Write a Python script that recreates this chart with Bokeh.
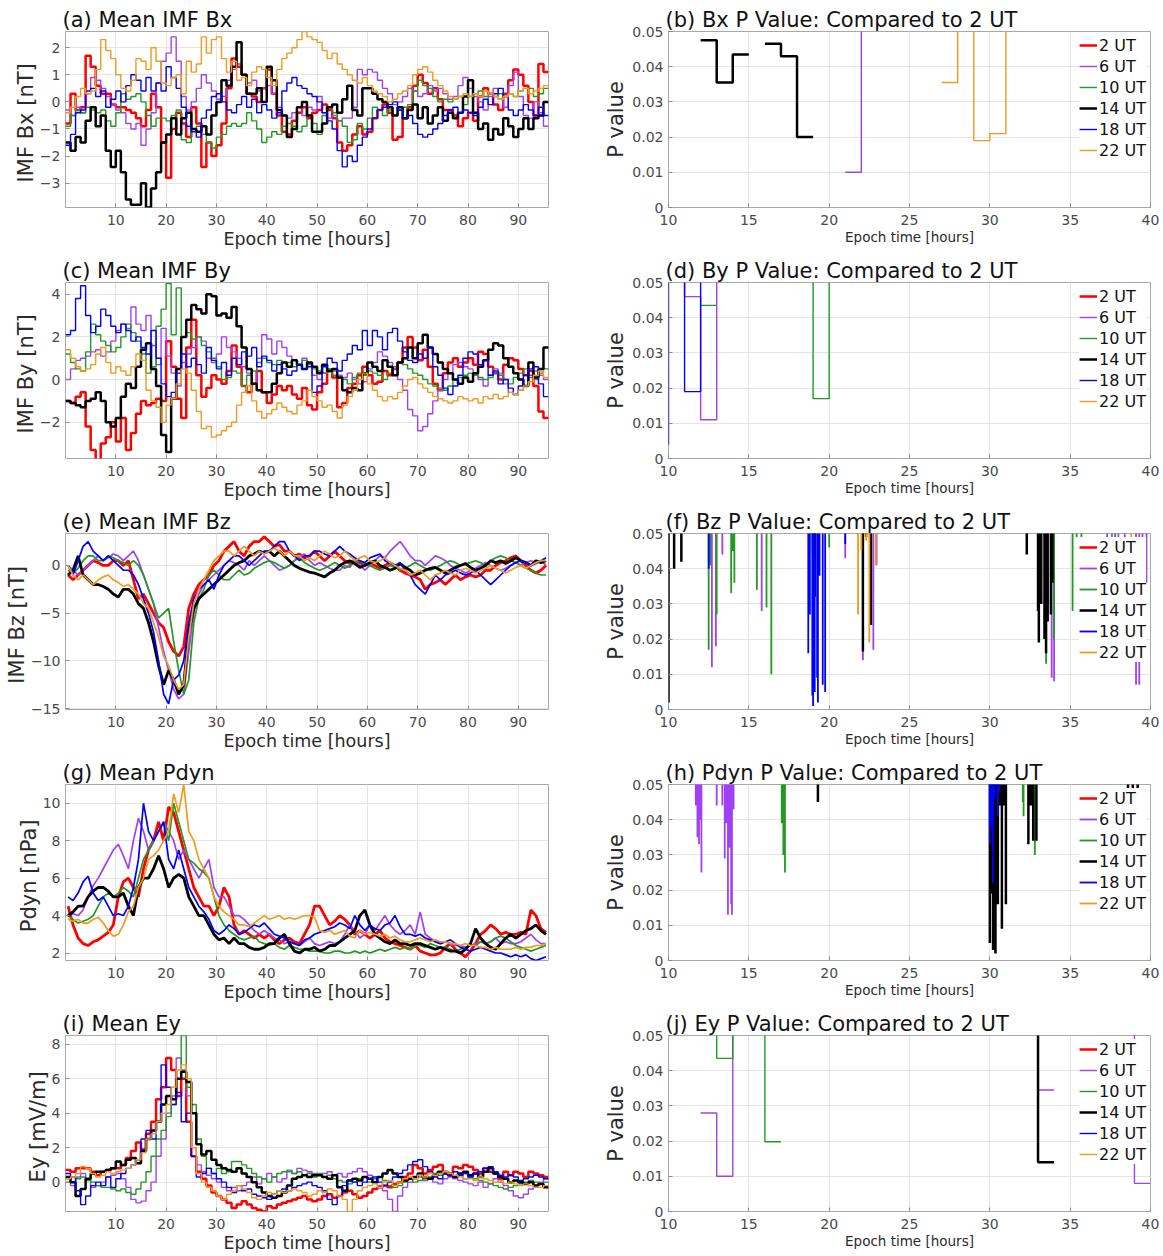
import math
from bokeh.plotting import figure
from bokeh.layouts import column, row
from bokeh.models import FixedTicker, Range1d, Legend, LegendItem
from bokeh.embed import file_html
from bokeh.resources import INLINE

FONT = "DejaVu Sans"
SERIES = ["2 UT", "6 UT", "10 UT", "14 UT", "18 UT", "22 UT"]
COLORS = {"2 UT": "#ff0000", "6 UT": "#a040f5", "10 UT": "#229922",
          "14 UT": "#000000", "18 UT": "#0000ff", "22 UT": "#f09a1e"}
WIDTHS = {"2 UT": 2.5, "6 UT": 1.4, "10 UT": 1.4, "14 UT": 2.5, "18 UT": 1.4, "22 UT": 1.4}

# ---------------- Mean IMF Bx (hourly means, epoch hours 0..96) ----------------
bx_02 = [-0.8, 0.3, -0.3, -0.2, 1.7, 1.3, 0.6, 0.3, 0.3, -0.1,
         -0.2, -0.2, -0.3, -0.4, -0.6, -0.9, -0.3, 0.3, -0.2, -1.5,
         -2.8, -1.0, -0.4, -0.8, -1.3, -0.2, -0.8, -2.4, -1.5, -2.0,
         -1.6, -0.8, 0.5, 1.6, 1.3, 1.0, 0.3, 0.2, 0.0, 0.5,
         1.2, 0.3, -0.5, -1.1, -1.2, -0.7, -0.4, -0.2, -0.6, -0.4,
         -0.3, -0.1, -0.3, -0.6, -1.5, -1.8, -1.6, -1.2, -0.9, -1.2,
         -1.1, -0.6, -0.3, -0.1, -0.4, -1.4, -1.3, -0.6, -0.2, 0.6,
         1.0, 0.7, 0.3, 0.5, 0.1, -0.3, -0.3, -0.5, -0.9, -0.6,
         -0.4, -0.7, 0.2, 0.5, 0.3, -0.1, -0.3, 0.3, 0.8, 1.2,
         1.0, 0.6, 0.0, -0.5, 1.4, 1.1]
bx_06 = [-0.3, -0.5, -0.2, -0.4, 0.3, 0.9, 0.8, 0.5, 0.2, -0.1,
         -0.3, -0.4, -0.8, -1.0, -0.8, -1.6, -1.0, -0.4, 0.7, 1.5,
         1.8, 2.4, 1.5, 0.2, -0.3, 0.0, 0.5, 1.0, 0.7, 0.4,
         0.1, 0.2, 0.8, 1.2, 1.4, 1.0, 0.7, 0.8, 0.4, 0.5,
         0.6, 0.3, -0.2, -0.5, -0.6, -0.4, -0.2, -0.5, -0.2, -0.3,
         0.2, -0.4, -0.6, -0.5, -0.7, -0.6, -0.6, -0.2, 1.2, 1.0,
         1.2, 1.1, 0.8, 0.5, 0.3, -0.1, 0.0, 0.2, 0.5, 0.4,
         0.2, 0.3, 0.6, 0.4, 0.5, 0.3, 0.1, 0.2, 0.6, 0.9,
         0.5, 0.2, 0.0, -0.3, 0.2, 0.5, 0.1, -0.2, 0.6, 1.1,
         0.2, -0.5, -0.6, 0.0, -0.4, -0.9]
bx_10 = [-0.9, -0.5, -0.3, -0.4, -0.2, -0.3, -0.4, -0.3, -0.7, -0.9,
         -0.4, 0.3, 0.1, 0.2, 0.3, 0.0, -0.5, -0.9, -0.6, -0.6,
         -0.7, -0.5, -0.3, -1.4, -1.5, -1.0, -0.9, -1.2, -1.5, -1.7,
         -1.3, -1.2, -0.9, -0.8, -0.9, -0.8, -0.4, -0.7, -1.0, -1.5,
         -1.3, -1.1, -1.2, -0.9, -0.8, -0.9, -1.1, -0.9, -0.5, -0.8,
         -1.2, -0.5, -0.2, -0.4, -0.7, -0.9, -1.5, -1.4, -0.8, -1.0,
         -0.6, -0.2, -0.3, -0.5, -0.3, -0.5, -0.3, -0.2, -0.1, 0.4,
         0.8, 0.6, 0.5, 0.2, 0.0, 0.1, 0.0, 0.1, 0.2, -0.1,
         0.2, 0.3, 0.4, 0.2, 0.3, 0.2, 0.3, 0.2, 0.3, 0.2,
         0.4, 0.5, 0.5, 0.2, 0.3, 0.5]
bx_14 = [-1.5, -1.8, -1.3, -1.5, -0.7, -0.2, -0.9, -0.5, -1.8, -2.4,
         -1.8, -2.6, -3.6, -3.8, -3.8, -3.0, -3.9, -3.2, -2.6, -1.5,
         -1.2, -0.6, -1.2, -0.6, -0.4, -1.0, -1.1, -0.9, -1.2, -0.5,
         0.0, 0.8, 0.6, 1.3, 2.2, 1.0, 0.3, 0.3, 0.5, 0.0,
         1.3, 0.8, -0.3, -0.5, -1.3, -1.0, -0.2, 0.0, -0.5, -1.1,
         -1.1, -0.8, -0.2, -0.1, -0.4, 0.1, 0.6, -0.3, -0.5, 0.5,
         0.5, 0.3, 0.1, 0.0, -0.2, -0.5, -0.2, -0.6, -0.3, -0.1,
         -0.6, -0.2, -0.8, -0.5, -0.2, -0.7, -0.4, -0.6, -0.4, 0.2,
         0.8, -0.4, -1.0, -0.8, -1.4, -1.0, -1.2, -0.6, -0.9, -1.3,
         -1.0, -0.6, -1.0, -0.6, -0.5, 0.0]
bx_18 = [-1.6, -1.2, -0.4, -0.3, 0.4, 0.5, 0.2, 0.4, -0.2, 0.1,
         0.4, 0.0, 0.6, 1.0, 0.8, 0.4, 0.9, 0.4, 0.7, 0.4,
         1.3, 0.9, 0.5, -0.2, -0.9, -1.1, -1.3, -0.6, -0.3, 0.2,
         0.3, 0.0, -0.3, -0.4, -0.1, 0.2, -0.2, 0.1, -0.4, -0.1,
         -0.3, -0.6, -0.4, 0.4, 0.7, 0.9, 0.6, 0.5, 0.3, 0.2,
         0.0, -0.4, -0.7, -1.0, -1.8, -2.4, -2.0, -2.2, -1.6, -1.3,
         -1.0, -0.6, -0.3, -0.2, -0.1, 0.0, -0.3, -0.6, -0.5, -0.8,
         -1.2, -1.3, -1.2, -1.0, -0.8, -0.5, -0.3, -0.2, -0.4, -0.3,
         -0.4, -0.5, -0.2, 0.1, -0.1, 0.3, 0.5, 0.2, -0.3, -0.5,
         -0.3, -0.1, -0.3, -0.5, -0.2, -0.5]
bx_22 = [-0.4, -0.2, 0.2, 0.5, 0.3, 0.4, 1.2, 2.3, 1.9, 1.6,
         1.0, 0.5, 0.4, 0.8, 1.6, 1.5, 1.2, 2.0, 1.5, 0.7,
         0.6, 0.9, 1.0, 0.3, 1.5, 1.1, 1.4, 2.4, 1.8, 2.3,
         2.4, 1.6, 1.1, 1.5, 0.8, 0.9, 0.6, 1.1, 1.3, 1.2,
         0.9, 0.6, 1.2, 1.6, 1.8, 2.0, 2.3, 2.6, 2.4, 2.3,
         2.2, 1.9, 1.6, 1.8, 1.4, 1.2, 1.0, 0.8, 0.7, 0.9,
         0.6, 0.4, 0.3, 0.2, 0.0, 0.1, 0.3, 0.4, 0.6, 1.0,
         1.2, 1.3, 1.1, 0.8, 0.6, 0.4, 0.2, 0.1, 0.2, 0.3,
         0.2, 0.3, 0.2, 0.4, 0.3, 0.2, 0.1, 0.2, 0.3, 0.2,
         0.4, 0.5, 0.3, 0.4, 0.5, 0.6]

# ---------------- Mean IMF By ----------------
by_02 = [-1.0, -1.1, -0.8, -0.6, -2.2, -3.3, -3.8, -3.0, -2.7, -2.0,
         -2.9, -1.8, -3.3, -2.5, -1.6, -1.0, -1.2, -1.1, -0.9, -1.0,
         1.8, 0.6, -0.9, -1.8, 1.5, 2.8, 0.2, -0.8, -0.4, 0.2,
         0.0, -0.2, 0.4, 1.6, 0.6, -0.3, -0.6, -0.2, 0.4, -0.6,
         -1.1, -0.7, -0.3, -0.5, -0.3, -0.7, -0.9, -0.4, -1.2, -1.4,
         -0.6, -0.2, 0.4, 0.1, -1.3, -1.1, -0.4, -0.2, 0.2, 0.6,
         0.2, -0.2, -0.1, 0.4, 0.2, 0.5, 0.8, 1.5, 2.0, 1.5,
         0.9, 1.4, 0.6, -0.2, -0.5, 0.3, 0.8, 1.0, 0.6, 0.8,
         1.0, 0.7, 1.3, 1.2, 0.6, 0.3, 0.0, 0.7, 1.0, 0.9,
         0.5, 0.2, 0.4, -0.3, -1.5, -1.8]
by_06 = [0.0, 0.5, 0.9, 1.0, 1.1, 1.3, 1.4, 1.1, 1.3, 1.8,
         2.3, 2.6, 2.4, 3.4, 2.6, 2.3, 3.0, 1.6, 0.7, 2.4,
         1.1, 0.3, -0.3, 0.8, 1.2, 1.5, 2.0, 1.8, 1.0, 0.8,
         1.2, 2.0, 1.5, 1.3, 1.0, 0.6, 0.3, -0.2, 1.0, 2.1,
         1.9, 1.2, 1.8, 1.5, 1.1, 0.9, 0.7, 1.0, 0.8, 0.2,
         0.0, 0.3, 0.5, 0.4, 0.2, 0.1, 0.3, 0.0, -0.2, -0.1,
         0.5, 0.8, 1.3, 1.1, 0.8, 0.5, 0.0, -0.5, -1.4, -1.7,
         -2.4, -2.2, -1.6, -1.0, -0.5, 0.0, 0.3, 0.7, 0.8, 0.6,
         0.5, 0.3, 0.0, -0.3, 0.2, 0.5, 0.3, -0.2, -0.6, -0.7,
         -0.5, -0.3, 0.1, 0.4, 0.2, 0.0]
by_10 = [1.2, 0.8, 0.5, 0.4, 1.3, 2.6, 2.1, 1.8, 1.6, 1.3,
         1.5, 2.0, 2.6, 2.2, 1.8, 1.2, 0.3, 0.6, 2.5, 3.3,
         4.5, 2.1, 4.3, 2.0, 2.2, 1.9, 2.0, 1.6, 1.3, 1.0,
         0.6, 0.0, 0.1, 0.4, 0.3, -0.3, 0.2, 0.4, 0.8, 1.0,
         0.8, 0.7, 0.9, 0.8, 0.8, 0.6, 0.7, 0.9, 0.7, 0.5,
         0.4, 0.3, 0.5, 0.2, 0.1, 0.0, -0.2, 0.1, 0.3, 0.2,
         0.4, 0.3, 0.2, 0.0, 0.3, 0.6, 0.8, 0.7, 0.5, 0.3,
         0.2, 0.0, -0.2, -0.3, -0.4, -0.5, -0.3, 0.0, 0.1, 0.2,
         0.3, 0.2, 0.1, 0.0, 0.1, 0.3, 0.2, 0.0, -0.2, 0.1,
         0.3, 0.5, 0.2, 0.0, 0.3, 0.5]
by_14 = [-1.0, -1.1, -1.2, -1.3, -1.0, -0.9, -0.6, -1.0, -2.0, -2.2,
         -1.8, -0.8, -0.2, -0.4, 0.6, 1.4, 1.7, 0.5, -0.3, -2.6,
         -3.4, -0.9, 0.5, 2.0, 2.8, 3.5, 3.3, 3.1, 4.0, 3.9,
         3.0, 3.1, 2.9, 3.4, 2.5, 1.5, 0.5, -0.2, -0.5, -0.6,
         -0.6, -0.2, 0.3, 0.8, 0.6, 0.9, 0.7, 0.5, 0.8, 0.6,
         0.3, 0.7, 0.4, 0.5, 0.1, -0.5, -0.6, -0.4, -0.5, 0.3,
         0.8, 0.6, 0.4, 0.9, 0.6, 0.2, 0.8, 1.0, 1.5, 1.0,
         1.7, 2.1, 1.5, 1.2, 0.8, 0.5, 0.3, 0.0, -0.2, 0.1,
         -0.1, 0.3, 0.6, 0.9, 1.4, 1.7, 1.6, 1.0, 0.6, 0.3,
         0.0, -0.3, 0.8, 0.1, 0.5, 1.5]
by_18 = [2.1, 2.3, 3.8, 4.4, 3.0, 2.2, 2.5, 3.3, 3.0, 2.5,
         2.2, 2.6, 2.3, 1.8, 2.0, 1.5, 1.2, 2.3, 1.0, -0.2,
         -0.8, -0.6, 0.3, 1.2, 0.6, 1.0, 0.7, 0.3, 1.5, 0.9,
         0.5, 0.8, 0.2, 1.0, 0.7, 1.3, 1.1, 1.5, 0.6, 1.1,
         0.9, 0.4, 0.7, 0.5, 0.2, 0.4, 0.7, 0.5, 0.6, -0.6,
         -0.3, 0.6, 1.0, 0.8, 0.4, 0.9, 1.2, 1.6, 1.4, 2.3,
         1.6, 2.3, 2.0, 1.4, 2.2, 2.4, 1.8, 1.3, 0.9, 0.8,
         1.2, 1.0, 1.5, 0.6, 0.2, -0.4, -0.7, -0.3, 0.2, 1.0,
         1.3, 1.2, 0.7, 0.9, 0.2, 0.4, -0.2, 0.0, -0.4, -0.7,
         -0.3, 0.2, 0.5, 0.6, -0.2, -0.8]
by_22 = [1.4, 1.0, 0.6, 0.4, 0.5, 0.7, 1.2, 1.5, 0.8, 0.3,
         0.6, 0.4, 0.2, 0.6, 1.2, 0.9, -0.5, -1.0, -1.3, -2.0,
         -1.2, -0.9, -0.2, 0.5, 0.3, -0.5, -1.5, -2.3, -2.2, -2.7,
         -2.6, -2.4, -2.2, -2.0, -1.2, -0.6, -0.3, -1.0, -1.5, -1.8,
         -1.6, -1.4, -1.1, -1.3, -1.5, -1.6, -1.2, -1.0, -0.5, -0.8,
         -1.0, -1.3, -1.2, -1.5, -1.8, -1.2, -0.8, -0.5, 0.0, 0.3,
         -0.2, -0.5, -0.8, -1.0, -0.8, -0.9, -0.6, -0.3, 0.0, 0.1,
         -0.2, -0.4, -0.6, -0.8, -0.9, -1.0, -1.1, -1.0, -0.8, -0.9,
         -1.0, -0.9, -1.1, -0.8, -0.9, -0.7, -0.9, -0.8, -0.6, -0.7,
         -0.5, -0.3, -0.1, 0.2, 0.4, 0.1]

# ---------------- Mean IMF Bz ----------------
bz_02 = [-1.0, -1.5, -1.0, -0.5, 0.0, 0.5, 0.3, 0.0, 0.0, 0.5,
         0.5, 0.0, 0.5, -1.5, -3.5, -3.0, -4.0, -5.0, -6.0, -6.5,
         -8.0, -9.0, -9.5, -8.5, -4.5, -3.0, -2.0, -1.5, -1.0, 0.0,
         0.5, 1.5, 2.0, 2.5, 1.5, 1.0, 2.0, 2.5, 2.5, 3.0,
         2.5, 2.0, 2.2, 1.5, 1.5, 1.0, 1.2, 0.8, 1.0, 1.5,
         1.0, 0.5, 1.0, 1.5, 1.0, 0.5, 0.2, 0.5, 0.3, 0.0,
         0.2, 0.0, -0.3, 0.0, 0.3, 0.0, -0.5, -0.8, -1.0, -1.2,
         -1.5, -2.5, -2.0, -1.8, -1.5, -2.0, -1.5, -1.0, -1.5, -1.2,
         -1.0, -1.2, -1.0, -0.5, -0.5, 0.0, 0.3, 0.5, 0.8, 1.0,
         0.5, 0.0, -0.5, -0.8, -0.5, 0.0]
bz_06 = [0.0, -0.5, -1.0, -0.5, 0.0, 0.5, 1.0, 0.5, 0.8, 1.2,
         1.0, 0.5, 1.0, 1.5, 0.5, -1.0, -2.5, -4.0, -6.5, -9.0,
         -11.0, -13.0, -14.0, -13.5, -9.0, -5.0, -3.0, -2.0, -1.5, -1.0,
         -0.5, 0.0, 0.5, 0.3, 0.0, -0.5, 0.5, 0.0, 0.5, 1.0,
         0.5, 0.0, -0.5, -0.3, 0.0, 0.5, 1.0, 1.2, 0.5, 0.0,
         0.3, 0.0, -0.3, -0.5, -0.5, 0.0, -0.2, 0.5, 0.0, -0.5,
         0.0, 0.5, 1.0, 0.8, 1.5, 2.0, 2.5, 1.8, 1.0, 0.5,
         0.5, 0.0, 0.5, 1.0, 0.8, 0.5, 0.0, -0.3, -0.5, -0.8,
         -0.5, -0.3, 0.0, 0.3, 0.0, -0.3, -0.5, -0.3, 0.0, 0.3,
         0.0, 0.3, 0.5, 0.3, 0.5, 0.0]
bz_10 = [-0.5, -0.8, -0.3, 0.5, 1.0, 1.0, 0.5, 0.5, 1.0, 0.8,
         0.5, 0.3, 0.0, 0.5, 0.0, -1.0, -2.5, -4.0, -5.5, -5.0,
         -4.5, -8.0, -11.0, -13.5, -12.0, -6.0, -3.5, -2.5, -1.0, -0.5,
         -1.0, -1.5, -1.5, -1.0, -0.5, -1.0, -0.8, -0.3, 0.0, 0.3,
         0.5, 0.3, 0.0, -0.3, 0.0, 0.5, 0.8, 0.3, 0.0, -0.3,
         -0.5, -0.3, 0.0, 0.3, 0.0, -0.3, 0.0, 0.3, 0.5, 0.2,
         0.0, -0.3, -0.5, -0.3, 0.0, -0.2, -0.5, -0.3, 0.0, 0.3,
         0.0, -0.3, -0.5, -0.3, 0.0, 0.3, 0.5, 0.3, 0.0, 0.2,
         0.3, 0.5, 0.3, 0.0, 0.5, 0.8, 1.0, 0.8, 0.5, 0.3,
         0.0, -0.3, -0.5, -0.8, -1.0, -1.0]
bz_14 = [-1.0, -0.5, 1.0, -1.0, -1.5, -2.0, -2.0, -2.2, -2.5, -3.0,
         -3.3, -2.5, -2.5, -3.0, -4.0, -4.5, -6.0, -8.0, -10.5, -12.5,
         -11.0, -12.0, -13.5, -12.5, -7.0, -4.5, -3.5, -3.0, -2.5, -2.0,
         -1.5, -1.0, -0.5, 0.0, 0.3, 0.5, 1.0, 1.2, 1.5, 1.3,
         1.5, 1.0, 1.5, 1.0, 0.5, 0.0, -0.3, -0.5, -0.7, -0.8,
         -1.0, -1.2, -0.8, -0.5, 0.0, 0.3, 0.5, 0.2, -0.2, 0.0,
         0.3, 0.5, 0.0, -0.2, -0.5, -0.3, 0.2, -0.2, -0.5, -1.0,
         -0.8, -0.5, -0.3, -0.2, -0.5, -0.8, -0.5, -0.2, 0.0, 0.2,
         -0.2, -0.5, -0.3, 0.0, 0.5, 0.3, 0.5, 0.2, 0.5, 0.8,
         0.5, 0.3, 0.0, 0.5, 0.3, 0.5]
bz_18 = [0.0, -1.0, 0.5, 2.0, 2.5, 1.5, 1.0, 0.5, 1.0, 0.5,
         0.0, -0.5, -0.5, -1.0, -2.0, -3.5, -5.0, -7.0, -10.0, -13.5,
         -14.5, -12.0, -11.5, -10.0, -6.0, -3.5, -2.5, -2.0, -1.5, -2.5,
         -1.0, 0.0, 0.5, 1.0, 1.0, 0.5, 0.0, 0.5, 1.0, 1.5,
         1.5, 2.0, 2.5, 2.5, 1.5, 1.0, 0.5, 1.0, 1.0, 1.5,
         1.5, 1.2, 1.0, 1.5, 2.0, 1.5, 1.2, 0.8, 0.5, 0.3,
         0.8, 1.0, 1.2, 0.5, 0.2, 0.0, 0.3, -0.5, -1.0, -2.0,
         -2.5, -3.0, -2.0, -1.0, -1.5, -1.0, -0.8, -0.5, -0.8, -1.0,
         -0.8, -0.5, -1.0, -1.5, -2.0, -1.5, -1.0, -0.5, 0.0, 0.3,
         0.5, 0.3, 0.0, 0.2, 0.5, 0.8]
bz_22 = [0.0, -1.0, -1.5, -1.0, -1.5, -2.0, -1.5, -1.2, -1.0, -1.5,
         -1.8, -2.2, -2.0, -2.5, -3.0, -4.0, -4.5, -6.0, -7.5, -9.5,
         -10.5, -12.0, -13.0, -12.5, -7.5, -4.0, -2.5, -1.5, -0.5, 0.5,
         1.0, 1.5, 1.5, 1.0, 1.5, 2.0, 1.5, 1.0, 1.5, 1.2,
         1.5, 1.8, 1.5, 1.0, 1.5, 1.0, 1.0, 0.5, 0.8, 0.5,
         1.0, 1.5, 1.2, 0.8, 1.0, 1.5, 1.0, 0.5, 0.8, 1.0,
         0.5, 0.3, 0.5, 0.8, 0.3, 0.0, -0.3, -0.5, -1.0, -0.8,
         -0.5, -1.0, -1.5, -1.0, -0.8, -0.5, -0.8, -1.0, -0.5, -0.3,
         -0.5, -0.8, -0.5, -0.3, 0.0, -0.3, -0.5, -0.8, -0.5, -0.2,
         0.0, -0.3, 0.0, 0.3, 0.5, 0.5]

# ---------------- Mean Pdyn ----------------
pd_02 = [4.5, 3.5, 2.8, 2.5, 2.4, 2.6, 2.7, 2.9, 3.1, 3.5,
         5.0, 5.8, 6.0, 5.5, 5.0, 6.5, 7.5, 8.0, 9.0, 8.0,
         9.8, 9.5, 8.5, 7.5, 6.5, 5.5, 5.0, 4.5, 4.5, 4.0,
         4.5, 5.5, 5.0, 3.5, 3.0, 3.2, 3.0, 2.8, 3.0, 2.8,
         3.0, 2.7, 2.5, 2.7, 2.8, 2.6, 2.5, 3.0, 3.5, 4.5,
         4.5, 4.0, 3.5, 3.7, 4.0, 3.8, 3.5, 3.0, 3.2, 3.0,
         2.8, 3.0, 3.2, 2.8, 2.6, 2.5, 2.4, 2.3, 2.2, 2.4,
         2.1, 2.0, 1.9, 1.9, 2.0, 2.3, 2.5, 2.2, 2.0, 1.8,
         2.1, 2.5, 3.0, 3.2, 3.5, 3.3, 3.0, 3.1, 3.0, 3.0,
         3.1, 3.0, 4.3, 4.0, 3.3, 3.1]
pd_06 = [4.0, 4.1, 4.0, 4.3, 5.0, 5.6, 6.0, 6.5, 7.0, 7.5,
         7.8, 7.2, 6.5, 8.0, 9.2, 8.5, 7.5, 8.0, 8.5, 9.0,
         8.5, 8.0, 7.0, 7.5, 7.0, 6.5, 6.0, 6.5, 7.0, 5.5,
         5.0, 5.0, 4.5, 4.0, 4.0, 3.8, 3.5, 3.2, 3.0, 3.2,
         3.0, 2.8, 2.7, 2.5, 2.6, 2.5, 2.4, 2.6, 2.8, 2.5,
         2.4, 2.5, 2.6, 2.5, 2.6, 3.0, 3.5, 3.2, 2.8, 3.0,
         3.5, 3.2, 3.6, 4.0, 3.5, 3.2, 3.0, 3.2, 3.5, 3.0,
         4.2, 3.0, 2.8, 2.6, 2.5, 2.6, 2.5, 2.4, 2.4, 2.3,
         2.4, 2.5, 2.6, 2.5, 2.6, 2.8, 2.5, 2.6, 2.5, 2.5,
         2.6, 2.8, 3.0, 2.7, 2.5, 2.5]
pd_10 = [4.0, 3.8, 3.6, 3.7, 3.8, 4.0, 4.5, 5.0, 5.2, 5.0,
         5.2, 5.5, 5.3, 5.0, 6.0, 7.0, 7.5, 8.0, 8.5, 9.0,
         8.0, 10.0, 9.0, 8.0, 7.0, 6.8, 6.5, 6.3, 6.0, 5.0,
         4.0, 3.5, 3.2, 3.0, 2.8, 2.7, 2.8, 2.9, 2.6, 2.5,
         2.4, 2.5, 2.3, 2.2, 2.4, 2.3, 2.2, 2.2, 2.1, 2.1,
         2.1, 2.0, 2.0, 2.1, 2.1, 2.0, 2.0, 2.1, 2.0, 2.1,
         2.0, 2.1, 2.2, 2.1, 2.2, 2.3, 2.2, 2.3, 2.2, 2.4,
         2.4, 2.3, 2.5, 2.4, 2.3, 2.3, 2.2, 2.1, 2.2, 2.3,
         2.4, 2.4, 2.6, 2.5, 2.6, 2.8, 2.9, 2.8, 2.6, 2.4,
         2.3, 2.2, 2.1, 2.2, 2.3, 2.4]
pd_14 = [4.0, 4.2, 4.5, 4.5, 5.0, 5.3, 5.5, 5.5, 5.3, 5.0,
         5.0, 5.2, 4.5, 4.0, 5.5, 6.0, 6.0, 6.5, 7.2, 6.5,
         5.5, 6.0, 6.2, 6.0, 5.0, 4.5, 4.0, 4.0, 3.5, 3.0,
         2.7, 2.8, 2.5, 2.8, 2.5, 2.5, 2.3, 2.2, 2.2, 2.3,
         2.5, 2.5, 2.8, 3.0, 2.5, 2.1, 2.0, 2.2, 2.2, 2.3,
         2.1, 2.2, 2.4, 2.4, 2.6, 2.8, 3.0, 3.2, 4.0, 4.3,
         3.5, 3.0, 2.8, 2.6, 2.5, 2.7, 2.5, 2.5, 2.4, 2.5,
         2.5, 2.4, 2.3, 2.2, 2.3, 2.2, 2.1, 2.1, 2.0, 2.2,
         2.5, 3.3, 2.8, 2.5, 2.3, 2.2, 2.5, 2.8, 3.0, 2.8,
         3.0, 3.2, 3.3, 3.5, 3.2, 3.0]
pd_18 = [5.0, 4.8, 5.2, 5.8, 6.1, 5.2, 4.8, 5.0, 4.5, 4.0,
         4.1, 4.0, 4.5, 5.5, 7.0, 10.0, 8.5, 8.0, 8.5, 9.0,
         7.0, 6.5, 7.5, 6.5, 5.5, 5.0, 4.5, 4.2, 3.8, 3.2,
         3.0, 3.2, 3.5, 3.3, 3.0, 3.1, 3.3, 3.5, 3.4, 3.6,
         3.3, 3.0, 2.9, 2.8, 2.6, 2.5, 2.4, 2.7, 2.8, 3.0,
         3.1, 3.2, 3.3, 3.4, 3.6, 3.5, 3.3, 4.0, 3.5, 3.2,
         3.5, 3.3, 3.2, 3.5, 3.6, 4.0, 3.4, 3.0, 3.0, 2.9,
         3.0, 2.8, 2.7, 2.6, 2.5, 2.6, 2.7, 2.5, 2.3, 2.2,
         2.1, 2.2, 2.3, 2.2, 2.1, 2.0, 2.0, 1.9, 1.8, 1.9,
         1.8, 1.9, 1.7, 1.6, 1.7, 1.8]
pd_22 = [3.8, 3.7, 3.8, 3.6, 3.6, 3.8, 3.9, 3.6, 3.2, 2.9,
         3.0, 3.5, 4.2, 4.5, 5.5, 6.0, 7.0, 7.2, 7.5, 8.0,
         8.5, 10.5, 9.5, 11.0, 8.5, 8.0, 7.0, 6.5, 6.0, 5.0,
         4.5, 4.2, 4.0, 3.8, 3.5, 3.5, 3.4, 3.6, 3.8, 4.0,
         3.8, 3.9, 4.0, 3.8, 3.9, 3.8, 3.9, 4.0, 4.0, 3.9,
         3.2, 3.1, 3.2, 3.0, 3.1, 3.2, 2.9, 2.8, 3.2, 3.0,
         3.1, 3.0, 2.9, 3.0, 2.8, 2.9, 2.7, 2.6, 2.6, 2.7,
         2.8, 2.7, 2.6, 2.7, 2.6, 2.6, 2.5, 2.5, 2.4, 2.5,
         2.4, 2.4, 2.3, 2.3, 2.2, 2.3, 2.2, 2.2, 2.2, 2.3,
         2.2, 2.3, 2.3, 2.4, 2.4, 2.5]

# ---------------- Mean Ey ----------------
ey_02 = [0.7, 0.6, 0.8, 0.8, 0.8, 0.6, 0.4, 0.6, 0.7, 0.8,
         0.8, 1.0, 1.4, 1.8, 2.3, 1.9, 2.8, 3.5, 4.8, 5.5,
         7.2, 6.5, 5.0, 6.0, 3.5, 1.5, 0.6, 0.2, -0.2, -0.6,
         -0.8, -1.0, -1.2, -1.5, -1.3, -1.1, -1.3, -1.5, -1.6, -1.7,
         -1.4, -1.5, -1.3, -1.2, -1.1, -1.0, -0.9, -0.8, -1.0, -1.1,
         -1.0, -0.8, -0.7, -0.9, -0.8, -0.6, -0.5, -0.7, -0.9, -0.8,
         -0.6, -0.4, -0.3, -0.2, -0.3, -0.1, 0.0, 0.3, 0.5, 1.0,
         0.8, 0.5, 0.7, 0.9, 1.0, 0.6, 0.5, 0.9, 0.8, 1.0,
         0.9, 0.7, 0.5, 0.8, 0.6, 0.5, 0.2, 0.6, 0.4, 0.6,
         0.5, 0.3, 0.6, 0.5, 0.4, 0.3]
ey_06 = [0.0, -0.2, 0.3, 0.5, 0.2, -0.3, -0.2, 0.0, 0.3, 0.4,
         0.5, 0.2, -0.3, -1.0, -1.2, -1.1, -0.5, 0.0, 1.5, 2.5,
         4.0, 5.0, 7.2, 6.5, 5.0, 2.0, 1.0, 0.6, 0.4, 0.2,
         0.0, -0.3, -0.5, -0.3, -0.5, -0.2, 0.0, 0.3, -0.1, 0.2,
         0.5, 0.3, 0.0, 0.2, 0.6, 0.5, 0.8, 0.7, 0.6, 0.5,
         0.4, 0.5, 0.6, 0.4, 0.5, 0.3, 0.5, 0.6, 0.8, 0.6,
         0.4, 0.0, -0.2, -0.5, -1.0, -1.7, -0.8, -0.3, 0.0, 0.2,
         0.3, 0.1, 0.2, 0.0, -0.1, 0.2, 0.3, 0.2, 0.1, 0.0,
         -0.1, -0.2, 0.0, -0.3, -0.1, 0.2, 0.0, -0.2, -0.5, -0.8,
         -0.9, -0.7, -0.4, -0.2, 0.0, 0.2]
ey_10 = [0.2, 0.0, 0.2, 0.3, 0.1, 0.0, -0.2, -0.3, -0.3, -0.4,
         -0.5, -0.4, -0.6, -0.7, -0.4, 0.0, 0.6, 1.5, 2.5, 3.0,
         3.8, 4.5, 6.0, 8.5, 5.5, 4.5, 2.5, 1.5, 0.8, 0.5,
         0.8, 0.5, 0.6, 1.2, 1.2, 1.0, 0.8, 0.5, 0.3, 0.2,
         0.0, 0.3, 0.5, 0.6, 0.7, 0.5, 0.6, 0.4, 0.5, 0.3,
         0.5, 0.3, 0.4, 0.2, 0.1, 0.0, -0.1, 0.0, 0.2, 0.3,
         0.0, 0.2, 0.3, 0.1, -0.2, -0.3, -0.2, 0.0, 0.2, 0.0,
         0.1, 0.2, 0.3, 0.5, 0.4, 0.6, 0.5, 0.3, 0.4, 0.2,
         0.3, 0.2, 0.1, 0.0, -0.1, -0.2, -0.3, -0.4, -0.3, -0.2,
         -0.1, 0.0, 0.1, 0.0, -0.1, 0.0]
ey_14 = [0.3, 0.0, -0.8, -0.4, 0.2, 0.5, 0.6, 0.6, 0.7, 0.8,
         1.2, 1.0, 1.3, 1.4, 1.1, 1.8, 2.5, 3.0, 3.5, 4.5,
         5.0, 4.8, 6.0, 6.4, 5.8, 4.0, 2.2, 1.6, 1.8, 1.3,
         1.0, 0.8, 0.7, 0.6, 0.8, 0.5, 0.3, 0.0, -0.3, -0.6,
         -0.8, -0.9, -0.8, -0.6, -0.2, 0.2, 0.3, 0.4, 0.3, 0.4,
         0.4, 0.3, 0.2, 0.4, -0.3, -0.5, 0.1, 0.2, 0.1, 0.3,
         0.2, 0.0, 0.3, 0.5, 0.7, 0.5, 0.3, 0.1, 0.2, 0.3,
         0.5, 0.3, 0.2, 0.4, 0.6, 0.5, 0.4, 0.3, 0.5, 0.6,
         0.4, 0.5, 0.3, 0.6, 0.8, 0.5, 0.3, 0.2, 0.0, 0.1,
         0.0, -0.1, 0.0, -0.2, -0.1, -0.3]
ey_18 = [0.5, 0.3, -0.5, -1.3, -0.8, -0.2, 0.0, -0.2, 0.3, -0.3,
         0.2, 0.5, 0.8, 1.0, 1.3, 2.5, 3.0, 2.5, 3.5, 6.8,
         5.5, 4.5, 5.2, 3.5, 4.0, 1.5, 0.3, 0.5, 0.8, 0.5,
         0.2, 0.0, -0.3, -0.6, -0.2, -0.5, -0.4, -0.7, -0.8, -0.9,
         -1.0, -0.7, -0.5, -0.4, -0.5, -0.3, -0.2, -0.1, 0.0, -0.2,
         -0.3, -0.5, -1.0, -1.3, -0.8, -0.2, 0.1, 0.0, -0.2, 0.0,
         0.2, 0.3, 0.0, -0.2, 0.0, 0.3, 0.5, 0.7, 1.0, 1.2,
         1.3, 0.9, 0.6, 0.3, 0.2, 0.5, 0.4, 0.6, 0.4, 0.5,
         0.3, 0.5, 0.6, 0.8, 0.9, 0.6, 0.4, 0.3, 0.4, 0.3,
         0.1, 0.2, 0.3, 0.4, 0.3, 0.2]
ey_22 = [0.2, 0.3, 0.5, 0.9, 0.8, 0.5, 0.3, 0.4, 0.6, 0.5,
         0.6, 0.7, 0.8, 1.0, 1.3, 1.7, 2.5, 2.8, 3.5, 4.0,
         4.5, 5.5, 6.5, 6.8, 6.0, 2.0, 0.5, 0.0, -0.3, -0.5,
         -0.8, -1.0, -0.7, -0.5, -0.2, -0.4, -0.6, -0.9, -1.0, -0.8,
         -0.6, -0.7, -0.5, -0.6, -0.5, -0.4, -0.5, -0.6, -0.8, -0.7,
         -0.5, -0.6, -0.4, -0.5, -0.8, -1.0, -1.7, -1.0, -0.5, -0.3,
         -0.2, -0.1, -0.3, 0.0, 0.1, -0.2, 0.0, 0.2, 0.3, 0.2,
         0.4, 0.3, 0.5, 0.4, 0.5, 0.6, 0.5, 0.4, 0.3, 0.2,
         0.2, 0.1, 0.3, 0.2, 0.1, 0.0, 0.1, -0.1, 0.0, -0.1,
         -0.2, -0.1, -0.2, -0.3, -0.3, -0.2]

# ---------------- Hourly P values vs 2 UT: (hour, p); missing hours = no value,
# P_HIGH marks a value above the 0.05 display limit ----------------
P_HIGH = 0.1
bxp_06 = [(21, 0.010), (22, P_HIGH)]
bxp_14 = [(12, 0.0475), (13, 0.0355), (14, 0.0435), (16, 0.0465), (17, 0.043), (18, 0.020)]
bxp_22 = [(27, 0.0355), (28, P_HIGH), (29, 0.019), (30, 0.021), (31, P_HIGH)]

byp_06 = [(10, P_HIGH), (11, 0.046), (12, 0.011), (13, P_HIGH)]
byp_10 = [(12, 0.0435), (18, P_HIGH), (19, 0.017), (20, P_HIGH)]
byp_18 = [(9, 0.004), (10, P_HIGH), (11, 0.019), (12, P_HIGH)]

eyp_06 = [(12, 0.028), (13, 0.010), (14, P_HIGH), (33, 0.0345), (38, P_HIGH), (39, 0.008)]
eyp_10 = [(12, P_HIGH), (13, 0.0435), (14, P_HIGH), (15, P_HIGH), (16, 0.0198)]
eyp_14 = [(32, P_HIGH), (33, 0.014)]

# ---------------- High-resolution P value dips: (epoch hour, minimum p) ----------------
bzp_06 = [(12.7, 0.012), (12.95, 0.018), (13.35, 0.044), (15.8, 0.028), (21.0, 0.043),
          (22.1, 0.014), (22.75, 0.017), (22.95, 0.041), (33.6, 0.030), (33.85, 0.009),
          (34.0, 0.008), (37.3, 0.0488), (37.6, 0.0488), (38.0, 0.0488), (38.4, 0.0488),
          (39.1, 0.007), (39.3, 0.007), (39.5, 0.0488), (39.75, 0.036)]
bzp_10 = [(12.5, 0.017), (12.6, 0.041), (13.0, 0.027), (13.9, 0.033), (14.0, 0.045),
          (14.1, 0.036), (15.5, 0.034), (16.1, 0.029), (16.4, 0.010), (20.0, 0.046),
          (33.5, 0.013), (34.0, 0.020), (35.15, 0.028), (35.4, 0.049), (35.7, 0.049),
          (37.8, 0.0488)]
bzp_14 = [(10.0, 0.002), (10.35, 0.040), (10.8, 0.042), (19.0, 0.044), (19.1, 0.032),
          (22.1, 0.0165), (22.3, 0.049), (22.6, 0.024), (32.3, 0.044), (33.0, 0.028),
          (33.05, 0.019), (33.2, 0.030), (33.4, 0.020), (33.5, 0.016), (33.6, 0.025),
          (33.8, 0.027), (33.9, 0.036)]
bzp_18 = [(12.5, 0.040), (18.7, 0.016), (18.8, 0.027), (18.95, 0.004), (19.0, 0.001),
          (19.1, 0.005), (19.25, 0.009), (19.3, 0.002), (19.4, 0.038), (19.6, 0.007),
          (19.75, 0.005), (21.0, 0.047)]
bzp_22 = [(21.8, 0.027), (22.0, 0.045), (22.3, 0.048), (22.5, 0.019), (22.9, 0.041),
          (38.8, 0.0488)]

pdp_06 = [(11.7, 0.044), (11.8, 0.035), (11.9, 0.033), (12.0, 0.040), (12.05, 0.025),
          (13.0, 0.044), (13.35, 0.044), (13.5, 0.029), (13.6, 0.039), (13.7, 0.013),
          (13.8, 0.032), (13.9, 0.016), (13.95, 0.013), (14.05, 0.043)]
pdp_10 = [(17.05, 0.039), (17.15, 0.030), (17.25, 0.025), (32.05, 0.045), (32.1, 0.041),
          (32.8, 0.030)]
pdp_14 = [(19.3, 0.045), (30.0, 0.005), (30.1, 0.019), (30.2, 0.003), (30.35, 0.002),
          (30.5, 0.016), (30.6, 0.044), (30.75, 0.009), (30.9, 0.044), (31.0, 0.016),
          (32.4, 0.033), (32.55, 0.044), (32.7, 0.034), (32.9, 0.034), (38.6, 0.048),
          (38.9, 0.048), (39.2, 0.048)]
pdp_18 = [(30.0, 0.033), (30.1, 0.038), (30.2, 0.022), (30.3, 0.046), (30.5, 0.041),
          (30.6, 0.048)]

LEFT_XTICKS = [10, 20, 30, 40, 50, 60, 70, 80, 90]
RIGHT_XTICKS = [10, 15, 20, 25, 30, 35, 40]
P_TICKS = [0, 0.01, 0.02, 0.03, 0.04, 0.05]

LEFT_PANELS = [
    ("(a) Mean IMF Bx", "IMF Bx  [nT]", [bx_02, bx_06, bx_10, bx_14, bx_18, bx_22], (-3.9, 2.6), [-3, -2, -1, 0, 1, 2], "step"),
    ("(c) Mean IMF By", "IMF By  [nT]", [by_02, by_06, by_10, by_14, by_18, by_22], (-3.7, 4.55), [-2, 0, 2, 4], "step"),
    ("(e) Mean IMF Bz", "IMF Bz  [nT]", [bz_02, bz_06, bz_10, bz_14, bz_18, bz_22], (-15.1, 3.35), [-15, -10, -5, 0], "line"),
    ("(g) Mean Pdyn", "Pdyn  [nPa]", [pd_02, pd_06, pd_10, pd_14, pd_18, pd_22], (1.6, 11.0), [2, 4, 6, 8, 10], "line"),
    ("(i) Mean Ey", "Ey  [mV/m]", [ey_02, ey_06, ey_10, ey_14, ey_18, ey_22], (-1.7, 8.5), [0, 2, 4, 6, 8], "step"),
]
RIGHT_PANELS = [
    ("(b) Bx P Value: Compared to 2 UT", "stairs", [[], bxp_06, [], bxp_14, [], bxp_22]),
    ("(d) By P Value: Compared to 2 UT", "stairs", [[], byp_06, byp_10, [], byp_18, []]),
    ("(f) Bz P Value: Compared to 2 UT", "dips", [[], bzp_06, bzp_10, bzp_14, bzp_18, bzp_22]),
    ("(h) Pdyn P Value: Compared to 2 UT", "dips", [[], pdp_06, pdp_10, pdp_14, pdp_18, []]),
    ("(j) Ey P Value: Compared to 2 UT", "stairs", [[], eyp_06, eyp_10, eyp_14, [], []]),
]

ROW_H = 251
NAN = float("nan")


def common_style(p, xlabel_size):
    p.title.text_font = FONT
    p.title.text_font_size = "21px"
    p.title.text_font_style = "normal"
    p.title.text_color = "#111111"
    p.title.align = "left"
    p.title.offset = -3
    p.title.standoff = 0
    p.outline_line_color = "#a8a8a8"
    p.outline_line_width = 1
    p.background_fill_color = "white"
    p.border_fill_color = "white"
    for g in (p.xgrid, p.ygrid):
        g.grid_line_color = "#e4e4e4"
        g.grid_line_width = 1
    for ax in (p.xaxis, p.yaxis):
        ax.axis_line_color = None
        ax.major_tick_in = 4
        ax.major_tick_out = 0
        ax.major_tick_line_color = "#8a8a8a"
        ax.minor_tick_line_color = None
        ax.major_label_text_font = FONT
        ax.major_label_text_font_size = "14px"
        ax.major_label_text_color = "#4a4a4a"
        ax.axis_label_text_font = FONT
        ax.axis_label_text_font_style = "normal"
        ax.axis_label_text_color = "#2a2a2a"
    p.xaxis.axis_label = "Epoch time [hours]"
    p.xaxis.axis_label_text_font_size = xlabel_size
    p.xaxis.major_label_standoff = 7
    p.xaxis.axis_label_standoff = 1
    p.yaxis.axis_label_text_font_size = "21px"
    p.yaxis.major_label_standoff = 5


def left_panel(title, ylabel, series, yr, yticks, kind):
    p = figure(width=581, height=ROW_H, output_backend="svg", toolbar_location=None,
               title=title, x_range=Range1d(0, 96), y_range=Range1d(*yr),
               min_border_left=65, min_border_right=33, min_border_top=31, min_border_bottom=44)
    common_style(p, "17.5px")
    p.xaxis.ticker = FixedTicker(ticks=LEFT_XTICKS)
    p.yaxis.ticker = FixedTicker(ticks=yticks)
    p.yaxis.axis_label = ylabel
    p.yaxis.axis_label_standoff = -1
    for name, vals in zip(SERIES, series):
        if kind == "step":
            xs = list(range(len(vals))) + [len(vals)]
            ys = list(vals) + [vals[-1]]
            p.step(xs, ys, mode="after", line_color=COLORS[name], line_width=WIDTHS[name])
        else:
            xs = [i + 0.5 for i in range(len(vals))]
            p.line(xs, list(vals), line_color=COLORS[name],
                   line_width=WIDTHS[name] + 0.3)
    return p


def right_panel(title, kind, series):
    p = figure(width=582, height=ROW_H, output_backend="svg", toolbar_location=None,
               title=title, x_range=Range1d(10, 40), y_range=Range1d(0, 0.05),
               min_border_left=87, min_border_right=13, min_border_top=31, min_border_bottom=44)
    common_style(p, "13.5px")
    p.xaxis.ticker = FixedTicker(ticks=RIGHT_XTICKS)
    p.yaxis.ticker = FixedTicker(ticks=P_TICKS)
    p.yaxis.major_label_overrides = {0: "0", 0.01: "0.01", 0.02: "0.02", 0.03: "0.03", 0.04: "0.04", 0.05: "0.05"}
    p.yaxis.axis_label = "P value"
    p.yaxis.axis_label_standoff = 1
    items = []
    for name, pairs in zip(SERIES, series):
        col, lw = COLORS[name], WIDTHS[name]
        xs, ys = [], []
        if kind == "stairs":
            d = dict(pairs)
            for h in range(9, 41):
                v = d.get(h, NAN)
                xs += [h, h + 1]
                ys += [v, v]
        else:
            for t, pm in pairs:
                xs += [t, t, NAN]
                ys += [P_HIGH, pm, NAN]
            lw = lw if lw > 2 else 1.8
        if not xs:
            xs, ys = [NAN], [NAN]
        r = p.line(xs, ys, line_color=col, line_width=lw)
        items.append(LegendItem(label=name, renderers=[r]))
    leg = Legend(items=items, location="top_right")
    leg.label_text_font = FONT
    leg.label_text_font_size = "16px"
    leg.label_text_color = "#111111"
    leg.glyph_width = 18
    leg.glyph_height = 20
    leg.label_height = 20
    leg.label_standoff = 2
    leg.spacing = 1
    leg.padding = 5
    leg.margin = 4
    leg.border_line_color = None
    leg.background_fill_color = "white"
    leg.background_fill_alpha = 1.0
    p.add_layout(leg)
    return p


rows = []
for lp, rp in zip(LEFT_PANELS, RIGHT_PANELS):
    rows.append(row(left_panel(*lp), right_panel(*rp)))
layout = column(*rows)

open("out.html", "w").write(file_html(layout, INLINE))
